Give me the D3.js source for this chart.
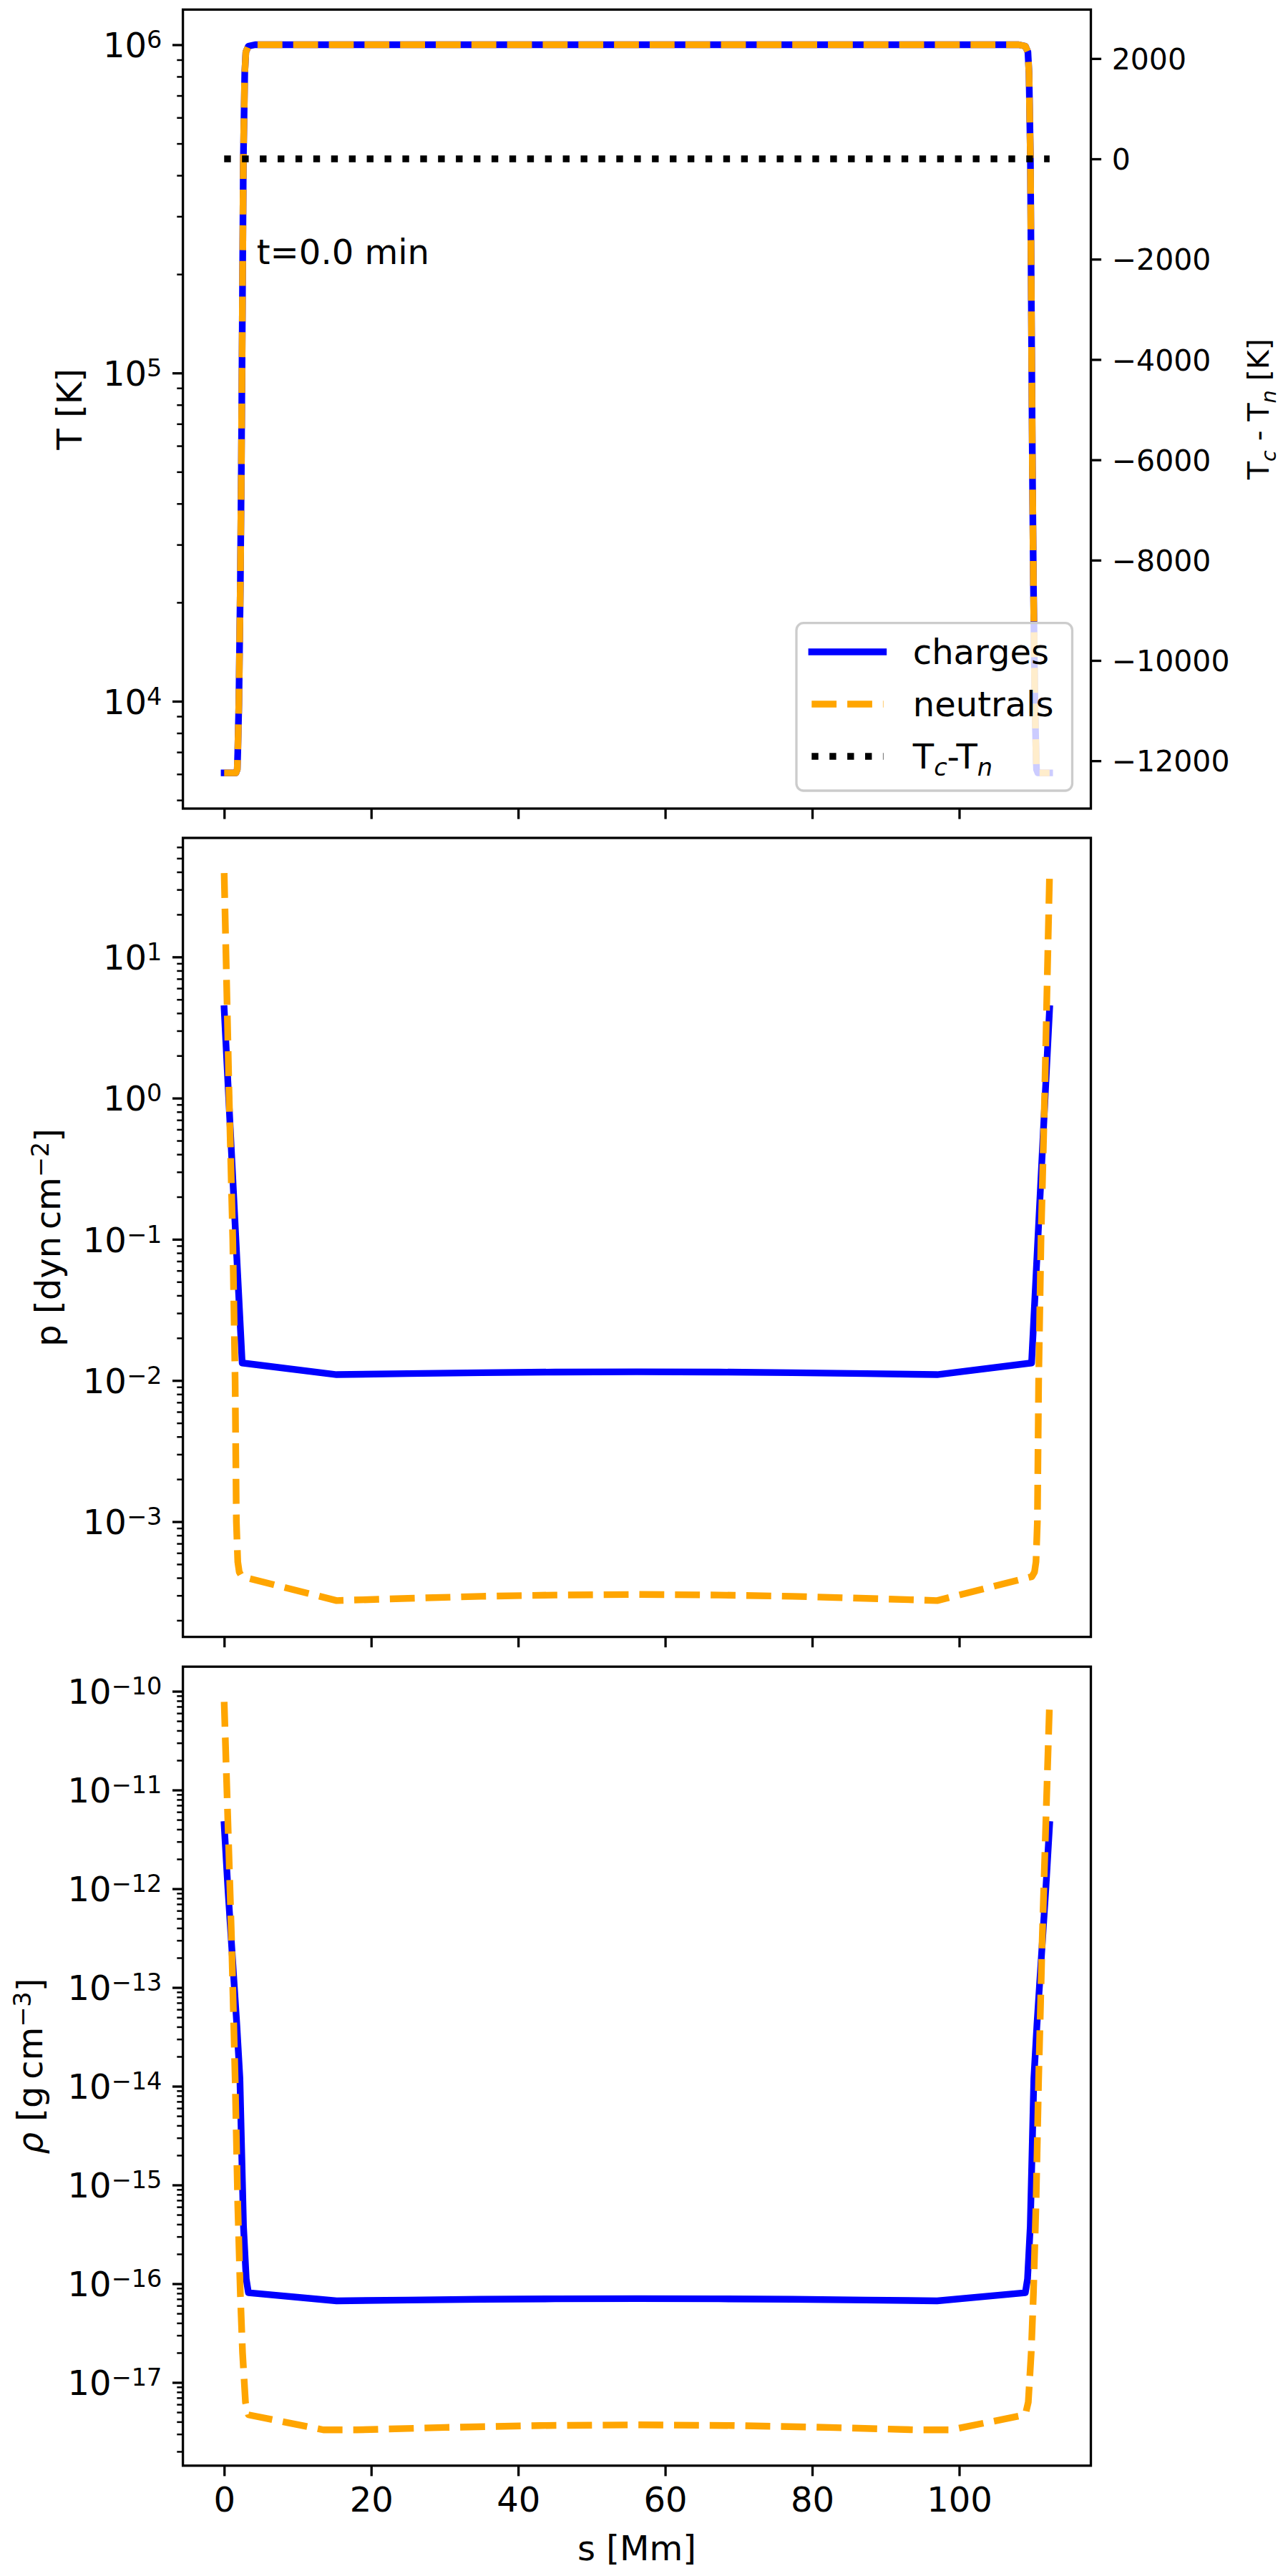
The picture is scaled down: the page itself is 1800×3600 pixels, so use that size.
<!DOCTYPE html>
<html>
<head>
<meta charset="utf-8">
<script src="https://cdn.jsdelivr.net/npm/d3@7"></script>
<style>
body { margin: 0; background: #fff; }
svg { display: block; font-family: "DejaVu Sans", sans-serif; }
</style>
</head>
<body>
<div id="chart"></div>
<script>
// values (s in Mm)
var sTemp = [0, 1.6, 1.78, 1.85, 2.0, 2.2, 2.34, 2.61, 2.8, 2.95, 3.3, 4.2, 30, 56.15, 82.3, 108.1, 109.0, 109.35, 109.5, 109.69, 109.96, 110.1, 110.3, 110.45, 110.52, 110.7, 112.3];
var tempCharges = [6050, 6050, 6200, 7000, 9850, 22700, 52000, 450000, 820000, 950000, 990000, 1000000, 1000000, 1000000, 1000000, 1000000, 990000, 950000, 820000, 450000, 52000, 22700, 9850, 7000, 6200, 6050, 6050];
var tempNeutrals = [6050, 6050, 6200, 7000, 9850, 22700, 52000, 450000, 820000, 950000, 990000, 1000000, 1000000, 1000000, 1000000, 1000000, 990000, 950000, 820000, 450000, 52000, 22700, 9850, 7000, 6200, 6050, 6050];

var sDiff = [0, 56.15, 112.3];
var tempDiff = [0, 0, 0];

var sPresC = [0, 2.45, 15.3, 25, 35, 45, 56.15, 67.3, 77.3, 87.3, 97.0, 109.85, 112.3];
var presCharges = [4.3, 0.0133, 0.0110, 0.01118, 0.01135, 0.01147, 0.01152, 0.01147, 0.01135, 0.01118, 0.0110, 0.0133, 4.3];

var sPresN = [0, 0.68, 1.17, 1.49, 1.66, 1.85, 2.05, 2.4, 15.3, 25, 35, 45, 56.15, 67.3, 77.3, 87.3, 97.0, 109.9, 110.25, 110.45, 110.64, 110.81, 111.13, 111.62, 112.3];
var presNeutrals = [39.3, 1.0, 0.1, 0.01, 0.001, 5.2e-4, 4.4e-4, 4.08e-4, 2.76e-4, 2.86e-4, 2.96e-4, 3.02e-4, 3.05e-4, 3.02e-4, 2.96e-4, 2.86e-4, 2.76e-4, 4.08e-4, 4.4e-4, 5.2e-4, 0.001, 0.01, 0.1, 1.0, 39.3];

var sRhoC = [0, 0.5, 1.72, 2.14, 2.63, 3.0, 3.3, 15.3, 25, 35, 45, 56.15, 67.3, 77.3, 87.3, 97.0, 109.0, 109.3, 109.67, 110.16, 110.58, 111.8, 112.3];
var rhoCharges = [4.47e-12, 1.03e-12, 4.2e-14, 1.2e-14, 3.8e-16, 1.12e-16, 8.1e-17, 6.7e-17, 6.83e-17, 6.95e-17, 7.03e-17, 7.06e-17, 7.03e-17, 6.95e-17, 6.83e-17, 6.7e-17, 8.1e-17, 1.12e-16, 3.8e-16, 1.2e-14, 4.2e-14, 1.03e-12, 4.47e-12];

var sRhoN = [0, 1.0, 1.5, 1.85, 2.2, 2.5, 2.9, 3.3, 13.5, 18, 30, 43, 56.15, 69.3, 82.3, 94.3, 98.8, 109.0, 109.4, 109.8, 110.1, 110.45, 110.8, 111.3, 112.3];
var rhoNeutrals = [7.8e-11, 3.16e-13, 1.12e-14, 6.3e-16, 7.9e-17, 2.0e-17, 6.3e-18, 4.7e-18, 3.31e-18, 3.31e-18, 3.5e-18, 3.66e-18, 3.72e-18, 3.66e-18, 3.5e-18, 3.31e-18, 3.31e-18, 4.7e-18, 6.3e-18, 2.0e-17, 7.9e-17, 6.3e-16, 1.12e-14, 3.16e-13, 7.8e-11];

// ticks
var xTicks = [0, 20, 40, 60, 80, 100];
var tempExp = [4, 5, 6];
var presExp = [-3, -2, -1, 0, 1];
var rhoExp = [-17, -16, -15, -14, -13, -12, -11, -10];
var diffTicks = [2000, 0, -2000, -4000, -6000, -8000, -10000, -12000];

// axis limits
var xDomain = [-5.615, 117.915];
var tempDomain = [4710, 1.2794e6];
var presDomain = [1.526e-4, 69.66];
var rhoDomain = [1.436e-18, 1.774e-10];
var diffDomain = [-12953, 2976];

var legendLabels = ["charges", "neutrals"];

var w = 1800;
var h = 3600;
var left = 255.6;
var right = 1524.5;
var panelTop = [13.4, 1171, 2329.2];
var panelH = 1116.6;
var majorLen = 14.6;
var minorLen = 8.3;
var pad = 14.6;
var lw = 9.4;
var fs = 48;
var fsSmall = 41;

var svg, xScale;

function pairs(s, v) {
	return d3.zip(s, v);
}

function supText(sel, base, exp, size) {
	sel.text(null);
	sel.append("tspan").text(base);
	sel.append("tspan").attr("dy", -13).attr("font-size", size * 0.7).text(exp);
}

function minorTicks(domain) {
	var out = [];
	var e0 = Math.floor(Math.log10(domain[0]));
	var e1 = Math.ceil(Math.log10(domain[1]));
	for (var e = e0; e <= e1; e++) {
		for (var k = 2; k <= 9; k++) {
			var v = k * Math.pow(10, e);
			if (v >= domain[0] && v <= domain[1]) out.push(v);
		}
	}
	return out;
}

function styleAxis(g) {
	g.select(".domain").remove();
	g.attr("font-size", fs).attr("font-family", "DejaVu Sans");
	g.selectAll(".tick line").attr("stroke", "#000");
}

function drawPanel(i, yDomain, exps, series, showX) {
	var top = panelTop[i];
	var bottom = top + panelH;

	var yScale = d3.scaleLog().domain(yDomain).range([bottom, top]);

	var line = d3.line()
		.x(function(d) { return xScale(d[0]); })
		.y(function(d) { return yScale(d[1]); });

	svg.append("clipPath")
		.attr("id", "clip" + i)
		.append("rect")
		.attr("x", left).attr("y", top)
		.attr("width", right - left).attr("height", panelH);

	var plot = svg.append("g").attr("clip-path", "url(#clip" + i + ")");

	series.forEach(function(sr) {
		plot.append("path")
			.datum(sr.data)
			.attr("d", line)
			.attr("fill", "none")
			.attr("stroke", sr.color)
			.attr("stroke-width", lw)
			.attr("stroke-linejoin", "round")
			.attr("stroke-linecap", sr.dash ? "butt" : "square")
			.attr("stroke-dasharray", sr.dash);
	});

	// x axis
	var xAxis = d3.axisBottom(xScale)
		.tickValues(xTicks)
		.tickSize(majorLen)
		.tickPadding(pad)
		.tickFormat(showX ? d3.format("d") : function() { return ""; });

	var gx = svg.append("g")
		.attr("transform", "translate(0," + bottom + ")")
		.call(xAxis);
	styleAxis(gx);
	gx.selectAll(".tick line").attr("stroke-width", 3.3);
	gx.selectAll(".tick text").attr("dy", "0.73em");

	// log y axis, minor then major
	var yMinor = d3.axisLeft(yScale)
		.tickValues(minorTicks(yDomain))
		.tickSize(minorLen)
		.tickFormat(function() { return ""; });
	var gm = svg.append("g")
		.attr("transform", "translate(" + left + ",0)")
		.call(yMinor);
	styleAxis(gm);
	gm.selectAll(".tick line").attr("stroke-width", 2.5);

	var yAxis = d3.axisLeft(yScale)
		.tickValues(exps.map(function(e) { return Math.pow(10, e); }))
		.tickSize(majorLen)
		.tickPadding(pad);
	var gy = svg.append("g")
		.attr("transform", "translate(" + left + ",0)")
		.call(yAxis);
	styleAxis(gy);
	gy.selectAll(".tick line").attr("stroke-width", 3.3);
	gy.selectAll(".tick text").attr("dy", "0.36em").each(function(d) {
		var e = Math.round(Math.log10(d));
		supText(d3.select(this), "10", (e < 0 ? "\u2212" : "") + Math.abs(e), fs);
	});

	// spines
	svg.append("rect")
		.attr("x", left).attr("y", top)
		.attr("width", right - left).attr("height", panelH)
		.attr("fill", "none")
		.attr("stroke", "#000")
		.attr("stroke-width", 3.3);

	return yScale;
}

function yLabel(x, yc, size) {
	return svg.append("text")
		.attr("transform", "translate(" + x + "," + yc + ") rotate(-90)")
		.attr("text-anchor", "middle")
		.attr("font-size", size);
}

function subT(sel, letter, size) {
	sel.append("tspan").text("T");
	sel.append("tspan").attr("dy", 10).attr("font-size", size * 0.7).attr("font-style", "italic").text(letter);
}

function lineChart() {

	svg = d3.select("#chart")
		.append("svg")
		.attr("width", w)
		.attr("height", h);

	svg.append("rect").attr("width", w).attr("height", h).attr("fill", "#fff");

	xScale = d3.scaleLinear().domain(xDomain).range([left, right]);

	var dashed = (lw * 3.7) + "," + (lw * 1.6);
	var dotted = lw + "," + (lw * 1.65);

	// temperature
	drawPanel(0, tempDomain, tempExp, [
		{ data: pairs(sTemp, tempCharges), color: "blue" },
		{ data: pairs(sTemp, tempNeutrals), color: "orange", dash: dashed }
	], false);

	// twin axis for Tc - Tn
	var top = panelTop[0];
	var bottom = top + panelH;
	var diffScale = d3.scaleLinear().domain(diffDomain).range([bottom, top]);
	var diffLine = d3.line()
		.x(function(d) { return xScale(d[0]); })
		.y(function(d) { return diffScale(d[1]); });

	svg.append("path")
		.datum(pairs(sDiff, tempDiff))
		.attr("d", diffLine)
		.attr("fill", "none")
		.attr("stroke", "#000")
		.attr("stroke-width", lw)
		.attr("stroke-linecap", "butt")
		.attr("stroke-dasharray", dotted);

	var rAxis = d3.axisRight(diffScale)
		.tickValues(diffTicks)
		.tickSize(majorLen)
		.tickPadding(pad)
		.tickFormat(d3.format("d"));
	var gr = svg.append("g")
		.attr("transform", "translate(" + right + ",0)")
		.call(rAxis);
	styleAxis(gr);
	gr.attr("font-size", fsSmall);
	gr.selectAll(".tick line").attr("stroke-width", 3.3);
	gr.selectAll(".tick text").attr("dy", "0.36em");

	svg.append("text")
		.attr("x", 358.8).attr("y", 369.3)
		.attr("font-size", fs)
		.text("t=0.0 min");

	// legend
	var lg = svg.append("g");
	lg.append("rect")
		.attr("x", 1113).attr("y", 870.7)
		.attr("width", 385.5).attr("height", 234.3)
		.attr("rx", 10)
		.attr("fill", "#fff").attr("fill-opacity", 0.8)
		.attr("stroke", "#cccccc").attr("stroke-width", 3.3);

	var rows = [911, 984, 1057];
	var handles = [
		{ color: "blue", cap: "square" },
		{ color: "orange", dash: dashed, cap: "butt" },
		{ color: "#000", dash: dotted, cap: "butt" }
	];
	handles.forEach(function(hd, k) {
		lg.append("line")
			.attr("x1", 1134.3).attr("x2", 1234.5)
			.attr("y1", rows[k]).attr("y2", rows[k])
			.attr("stroke", hd.color)
			.attr("stroke-width", lw)
			.attr("stroke-linecap", hd.cap)
			.attr("stroke-dasharray", hd.dash);
		var t = lg.append("text")
			.attr("x", 1275.8).attr("y", rows[k] + 17)
			.attr("font-size", fs);
		if (k < 2) {
			t.text(legendLabels[k]);
		} else {
			subT(t, "c", fs);
			t.append("tspan").attr("dy", -10).text("-");
			subT(t, "n", fs);
		}
	});

	// pressure
	drawPanel(1, presDomain, presExp, [
		{ data: pairs(sPresC, presCharges), color: "blue" },
		{ data: pairs(sPresN, presNeutrals), color: "orange", dash: dashed }
	], false);

	// density
	drawPanel(2, rhoDomain, rhoExp, [
		{ data: pairs(sRhoC, rhoCharges), color: "blue" },
		{ data: pairs(sRhoN, rhoNeutrals), color: "orange", dash: dashed }
	], true);

	// axis labels
	yLabel(114, panelTop[0] + panelH / 2, fs).text("T [K]");

	var pl = yLabel(83.5, panelTop[1] + panelH / 2, fs);
	pl.append("tspan").text("p [dyn\u2009cm");
	pl.append("tspan").attr("dy", -16).attr("font-size", fs * 0.7).text("\u22122");
	pl.append("tspan").attr("dy", 16).text("]");

	var rl = yLabel(58.5, panelTop[2] + panelH / 2, fs);
	rl.append("tspan").attr("font-style", "italic").text("\u03c1");
	rl.append("tspan").text(" [g\u2009cm");
	rl.append("tspan").attr("dy", -16).attr("font-size", fs * 0.7).text("\u22123");
	rl.append("tspan").attr("dy", 16).text("]");

	var tl = yLabel(1773, panelTop[0] + panelH / 2, fsSmall);
	subT(tl, "c", fsSmall);
	tl.append("tspan").attr("dy", -10).text(" - ");
	subT(tl, "n", fsSmall);
	tl.append("tspan").attr("dy", -10).text(" [K]");

	svg.append("text")
		.attr("x", (left + right) / 2).attr("y", 3578)
		.attr("text-anchor", "middle")
		.attr("font-size", fs)
		.text("s [Mm]");
}

function init() {
	lineChart();
}

window.onload = init;
</script>
</body>
</html>
